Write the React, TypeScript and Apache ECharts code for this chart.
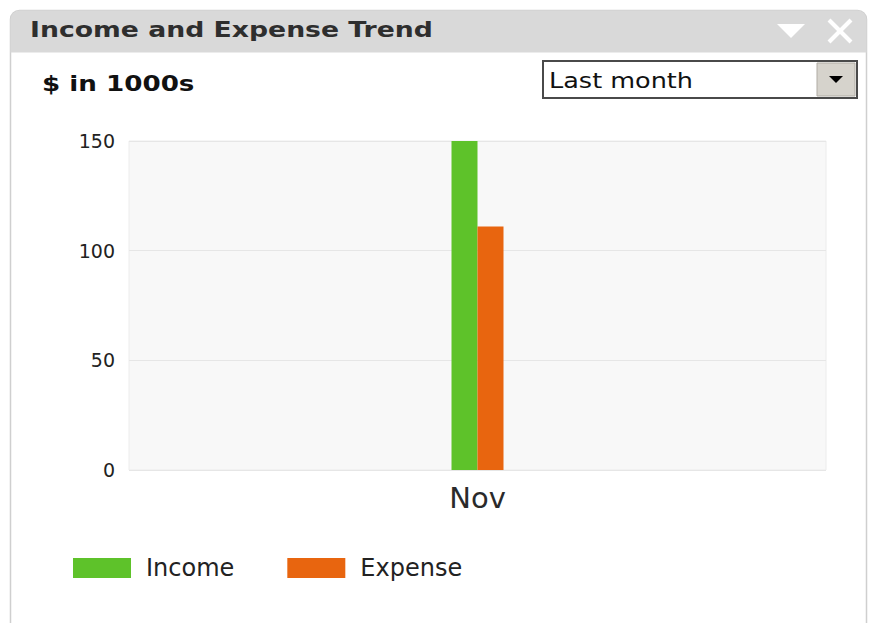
import React, { useEffect, useRef } from "react";
import * as echarts from "echarts";

const categories = ["Nov"];
const incomeValues = [150];
const expenseValues = [111];
const yTicks = { min: 0, max: 150, interval: 50 };
const seriesNames = ["Income", "Expense"];
const title = "Income and Expense Trend";
const unitLabel = "$ in 1000s";
const periodLabel = "Last month";

const FONT = "DejaVu Sans, Verdana, sans-serif";

export default function App() {
  const ref = useRef<HTMLDivElement>(null);
  useEffect(() => {
    document.body.style.margin = "0";
    const chart = echarts.init(ref.current!, undefined, { renderer: "svg" });
    chart.setOption({
      animation: false,
      backgroundColor: "#ffffff",
      grid: {
        left: 129,
        right: 45,
        top: 141,
        bottom: 153,
        show: true,
        backgroundColor: "#f8f8f8",
        borderColor: "#ececec",
        borderWidth: 1,
      },
      legend: {
        left: 73,
        top: 556,
        padding: 0,
        itemWidth: 58,
        itemHeight: 20,
        itemGap: 53,
        icon: "rect",
        textStyle: { fontSize: 24, color: "#222", fontFamily: FONT, padding: [0, 0, 0, 10] },
        data: seriesNames,
      },
      xAxis: {
        type: "category",
        data: categories,
        axisLine: { show: false },
        axisTick: { show: false },
        axisLabel: { fontSize: 29, color: "#2a2a2a", margin: 13, fontFamily: FONT },
      },
      yAxis: {
        type: "value",
        min: yTicks.min,
        max: yTicks.max,
        interval: yTicks.interval,
        axisLine: { show: false },
        axisTick: { show: false },
        axisLabel: { fontSize: 19, color: "#222", margin: 14, fontFamily: FONT },
        splitLine: { lineStyle: { color: "#e6e6e6" } },
      },
      series: [
        {
          name: seriesNames[0],
          type: "bar",
          data: incomeValues,
          barWidth: 26,
          barGap: "0%",
          itemStyle: { color: "#5ec22a" },
        },
        {
          name: seriesNames[1],
          type: "bar",
          data: expenseValues,
          barWidth: 26,
          barGap: "0%",
          itemStyle: { color: "#e8650f" },
        },
      ],
      graphic: [
        {
          type: "rect",
          z: -10,
          shape: { x: 10.5, y: 10.5, width: 856, height: 640, r: [9, 9, 0, 0] },
          style: { fill: "#ffffff", stroke: "#cfcfcf", lineWidth: 1.5 },
        },
        {
          type: "rect",
          z: -9,
          shape: { x: 10.5, y: 10.5, width: 856, height: 42, r: [9, 9, 0, 0] },
          style: { fill: "#d9d9d9" },
        },
        {
          type: "text",
          x: 30,
          y: 30.5,
          scaleX: 1.27,
          style: {
            text: title,
            font: "bold 21px " + FONT,
            fill: "#2e2e2e",
            textVerticalAlign: "middle",
          },
        },
        {
          type: "polygon",
          shape: { points: [[777, 24], [805, 24], [791, 38]] },
          style: { fill: "#ffffff" },
        },
        {
          type: "line",
          shape: { x1: 829, y1: 20, x2: 851, y2: 42 },
          style: { stroke: "#ffffff", lineWidth: 4 },
        },
        {
          type: "line",
          shape: { x1: 851, y1: 20, x2: 829, y2: 42 },
          style: { stroke: "#ffffff", lineWidth: 4 },
        },
        {
          type: "text",
          x: 42,
          y: 84,
          scaleX: 1.19,
          style: {
            text: unitLabel,
            font: "bold 22px " + FONT,
            fill: "#111",
            textVerticalAlign: "middle",
          },
        },
        {
          type: "rect",
          shape: { x: 543, y: 61, width: 314, height: 37 },
          style: { fill: "#ffffff", stroke: "#4a4a4a", lineWidth: 2 },
        },
        {
          type: "rect",
          shape: { x: 817, y: 63, width: 38, height: 33 },
          style: { fill: "#d6d3cc", stroke: "#b0aca4", lineWidth: 1 },
        },
        {
          type: "polygon",
          shape: { points: [[829, 76], [843, 76], [836, 83]] },
          style: { fill: "#000000" },
        },
        {
          type: "text",
          x: 549,
          y: 80.5,
          scaleX: 1.16,
          style: {
            text: periodLabel,
            font: "22px " + FONT,
            fill: "#111",
            textVerticalAlign: "middle",
          },
        },
      ],
    });
    return () => chart.dispose();
  }, []);
  return <div ref={ref} style={{ width: 871, height: 623 }} />;
}
